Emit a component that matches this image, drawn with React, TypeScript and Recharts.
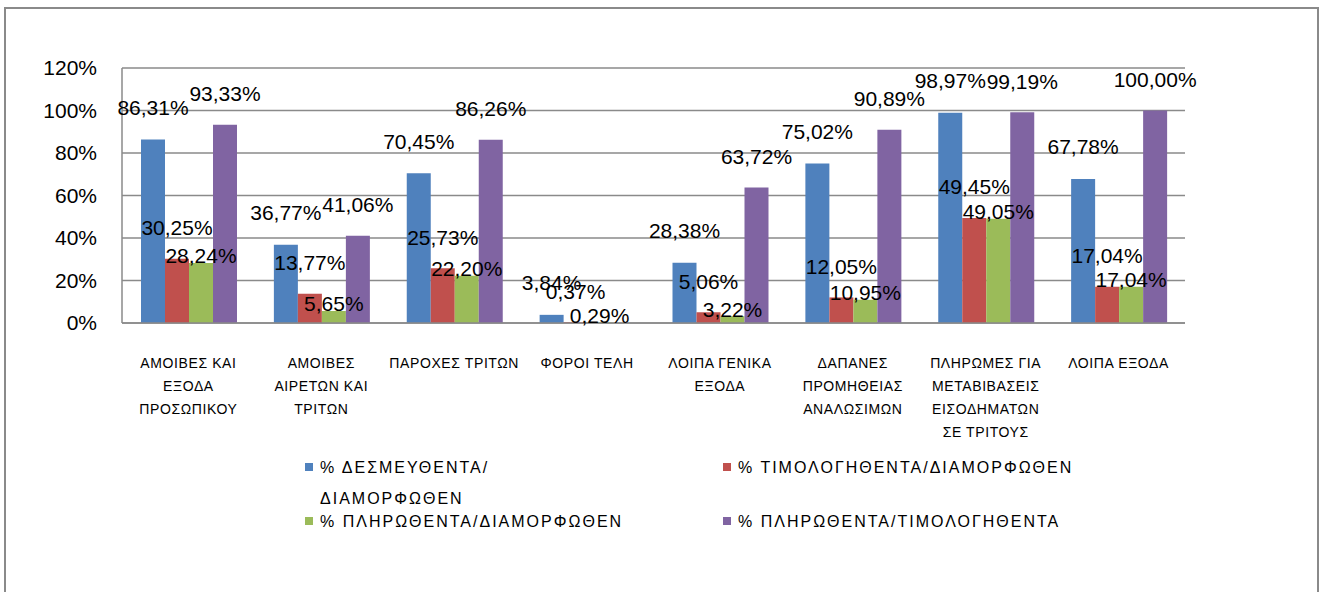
import { BarChart, Bar, XAxis, YAxis, CartesianGrid, LabelList } from "recharts";

const categories = [
  "ΑΜΟΙΒΕΣ ΚΑΙ|ΕΞΟΔΑ|ΠΡΟΣΩΠΙΚΟΥ",
  "ΑΜΟΙΒΕΣ|ΑΙΡΕΤΩΝ ΚΑΙ|ΤΡΙΤΩΝ",
  "ΠΑΡΟΧΕΣ ΤΡΙΤΩΝ",
  "ΦΟΡΟΙ ΤΕΛΗ",
  "ΛΟΙΠΑ ΓΕΝΙΚΑ|ΕΞΟΔΑ",
  "ΔΑΠΑΝΕΣ|ΠΡΟΜΗΘΕΙΑΣ|ΑΝΑΛΩΣΙΜΩΝ",
  "ΠΛΗΡΩΜΕΣ ΓΙΑ|ΜΕΤΑΒΙΒΑΣΕΙΣ|ΕΙΣΟΔΗΜΑΤΩΝ|ΣΕ ΤΡΙΤΟΥΣ",
  "ΛΟΙΠΑ ΕΞΟΔΑ",
];

const committed = [86.31, 36.77, 70.45, 3.84, 28.38, 75.02, 98.97, 67.78];
const invoiced = [30.25, 13.77, 25.73, 0.37, 5.06, 12.05, 49.45, 17.04];
const paid = [28.24, 5.65, 22.2, 0.29, 3.22, 10.95, 49.05, 17.04];
const paidOfInvoiced = [93.33, 41.06, 86.26, null, 63.72, 90.89, 99.19, 100.0];

const yTicks = [0, 20, 40, 60, 80, 100, 120];

const series = [
  { key: "committed", name: "% ΔΕΣΜΕΥΘΕΝΤΑ/|ΔΙΑΜΟΡΦΩΘΕΝ", color: "#4F81BD", offset: 32 },
  { key: "invoiced", name: "% ΤΙΜΟΛΟΓΗΘΕΝΤΑ/ΔΙΑΜΟΡΦΩΘΕΝ", color: "#C0504D", offset: 31 },
  { key: "paid", name: "% ΠΛΗΡΩΘΕΝΤΑ/ΔΙΑΜΟΡΦΩΘΕΝ", color: "#9BBB59", offset: 7 },
  { key: "paidOfInvoiced", name: "% ΠΛΗΡΩΘΕΝΤΑ/ΤΙΜΟΛΟΓΗΘΕΝΤΑ", color: "#8064A2", offset: 31 },
];

const data = categories.map((name, i) => ({
  name,
  committed: committed[i],
  invoiced: invoiced[i],
  paid: paid[i],
  paidOfInvoiced: paidOfInvoiced[i],
}));

const FONT = "'Liberation Sans', Arial, sans-serif";

function fmt(v: number) {
  return v.toFixed(2).replace(".", ",") + "%";
}

function CategoryTick(props: any) {
  const { x, y, payload } = props;
  const lines = String(payload.value).split("|");
  return (
    <g transform={`translate(${x},${y})`}>
      <text textAnchor="middle" fontFamily={FONT} fontSize={14} fill="#000" letterSpacing={0.6}>
        {lines.map((l, i) => (
          <tspan key={i} x={0} dy={i === 0 ? 45 : 23}>
            {l}
          </tspan>
        ))}
      </text>
    </g>
  );
}

const makeLabel = (offset: number) => (props: any) => {
  const { x, y, width, value } = props;
  if (value === null || value === undefined) return null;
  return (
    <text
      x={x + width / 2}
      y={y - offset}
      textAnchor="middle"
      dominantBaseline="central"
      fontFamily={FONT}
      fontSize={21}
      fill="#000"
    >
      {fmt(value)}
    </text>
  );
};

function LegendItem({ left, top, color, text }: { left: number; top: number; color: string; text: string }) {
  const lines = text.split("|");
  return (
    <div style={{ position: "absolute", left, top, fontFamily: FONT, fontSize: 16, letterSpacing: 2, lineHeight: "31px", color: "#000" }}>
      <span style={{ position: "absolute", left: 0, top: 11, width: 8, height: 8, background: color }} />
      <div style={{ marginLeft: 15 }}>
        {lines.map((l, i) => (
          <div key={i} style={{ whiteSpace: "nowrap" }}>{l}</div>
        ))}
      </div>
    </div>
  );
}

export default function App() {
  return (
    <div style={{ position: "absolute", left: 0, top: 0, width: 1319, height: 592, overflow: "hidden", background: "#fff" }}>
      <div
        style={{
          position: "absolute",
          left: 4,
          top: 7,
          width: 1311,
          height: 620,
          border: "2px solid #8a8a8a",
        }}
      />
      <div style={{ position: "absolute", left: 0, top: 0 }}>
        <BarChart
          width={1319}
          height={592}
          data={data}
          margin={{ top: 68, right: 134, left: 62, bottom: 149 }}
          barGap={0}
          barCategoryGap={19}
        >
          <CartesianGrid vertical={false} stroke="#8a8a8a" strokeWidth={1.5} />
          <XAxis
            dataKey="name"
            interval={0}
            tickLine={false}
            tickSize={0}
            tickMargin={0}
            height={120}
            axisLine={{ stroke: "#8a8a8a", strokeWidth: 1.5 }}
            tick={<CategoryTick />}
          />
          <YAxis
            width={60}
            domain={[0, 120]}
            ticks={yTicks}
            tickFormatter={(v) => `${v}%`}
            tickLine={false}
            tickSize={0}
            tickMargin={25}
            axisLine={{ stroke: "#8a8a8a", strokeWidth: 1.5 }}
            tick={{ fontFamily: FONT, fontSize: 21, fill: "#000" }}
          />
          {series.map((s) => (
            <Bar key={s.key} dataKey={s.key} fill={s.color} isAnimationActive={false}>
              <LabelList dataKey={s.key} content={makeLabel(s.offset)} />
            </Bar>
          ))}
        </BarChart>
      </div>
      <LegendItem left={305} top={452} color={series[0].color} text={series[0].name} />
      <LegendItem left={723} top={452} color={series[1].color} text={series[1].name} />
      <LegendItem left={305} top={506} color={series[2].color} text={series[2].name} />
      <LegendItem left={723} top={506} color={series[3].color} text={series[3].name} />
    </div>
  );
}
